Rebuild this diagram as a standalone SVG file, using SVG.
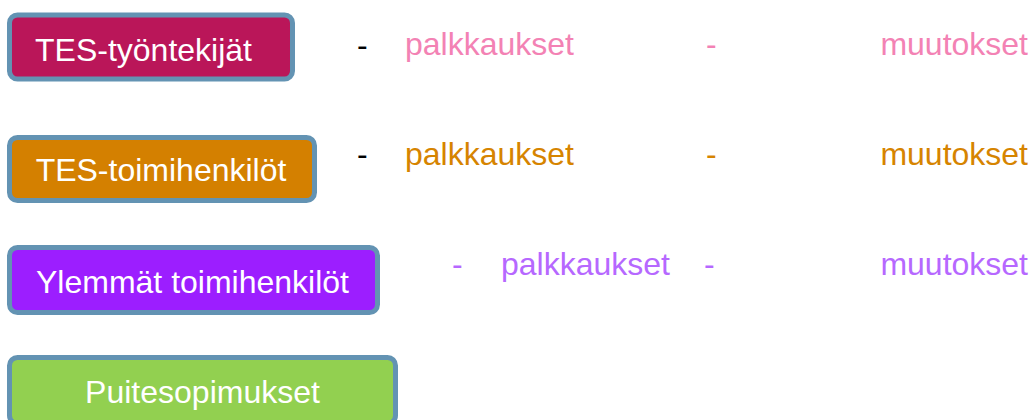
<svg xmlns="http://www.w3.org/2000/svg" width="1032" height="420" viewBox="0 0 1032 420">
  <style>
    .box { stroke: #6393B3; stroke-width: 5; }
    .lbl { font-family: "Liberation Sans", Arial, sans-serif; font-size: 32px; fill: #FFFFFF; }
    .txt { font-family: "Liberation Sans", Arial, sans-serif; font-size: 32px; }
    .pink { fill: #F382B4; }
    .orange { fill: #D68400; }
    .violet { fill: #B668FF; }
    .black { fill: #000000; }
  </style>
  <rect width="1032" height="420" fill="#FFFFFF"/>

  <g id="node-tes-tyontekijat">
    <rect class="box" x="9.5" y="15" width="283" height="64" rx="8" fill="#BA1659"/>
    <text class="lbl" x="35" y="61">TES-työntekijät</text>
  </g>

  <g id="node-tes-toimihenkilot">
    <rect class="box" x="9.5" y="137.5" width="305" height="63" rx="8" fill="#D48000"/>
    <text class="lbl" x="161" y="181" text-anchor="middle">TES-toimihenkilöt</text>
  </g>

  <g id="node-ylemmat">
    <rect class="box" x="9.5" y="247.5" width="368" height="65" rx="8" fill="#9C1EFF"/>
    <text class="lbl" x="192.5" y="293" text-anchor="middle">Ylemmät toimihenkilöt</text>
  </g>

  <g id="node-puitesopimukset">
    <rect class="box" x="9.5" y="357.5" width="386" height="66" rx="8" fill="#92D050"/>
    <text class="lbl" x="202.5" y="403" text-anchor="middle">Puitesopimukset</text>
  </g>

  <g id="row-1">
    <text class="txt black" x="357" y="56">-</text>
    <text class="txt pink" x="405" y="55">palkkaukset</text>
    <text class="txt pink" x="706" y="55">-</text>
    <text class="txt pink" x="1028" y="55" text-anchor="end">muutokset</text>
  </g>

  <g id="row-2">
    <text class="txt black" x="357" y="165">-</text>
    <text class="txt orange" x="405" y="165">palkkaukset</text>
    <text class="txt orange" x="706" y="165">-</text>
    <text class="txt orange" x="1028" y="165" text-anchor="end">muutokset</text>
  </g>

  <g id="row-3">
    <text class="txt violet" x="452" y="275">-</text>
    <text class="txt violet" x="501" y="275">palkkaukset</text>
    <text class="txt violet" x="704" y="275">-</text>
    <text class="txt violet" x="1028" y="275" text-anchor="end">muutokset</text>
  </g>
</svg>
